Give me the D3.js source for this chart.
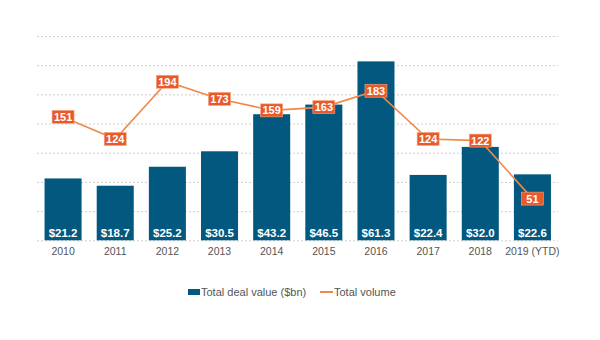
<!DOCTYPE html>
<html><head><meta charset="utf-8">
<script src="https://cdn.jsdelivr.net/npm/d3@7"></script>
<style>body{margin:0;background:#fff}svg{display:block;font-family:"Liberation Sans",Arial,sans-serif}</style>
</head><body><svg id="c" width="600" height="340"></svg>
<script>
const categories = ["2010","2011","2012","2013","2014","2015","2016","2017","2018","2019 (YTD)"];
const dealValues = [21.2,18.7,25.2,30.5,43.2,46.5,61.3,22.4,32.0,22.6];
const volumes = [151,124,194,173,159,163,183,124,122,51];
const leftTicks = [0,10,20,30,40,50,60,70];
const legendLabels = ["Total deal value ($bn)","Total volume"];

const svg = d3.select("#c");
const x = d3.scaleBand().domain(categories).range([37,558.5]).paddingInner(0.29).paddingOuter(0.145);
const y = d3.scaleLinear().domain([0,70]).range([240.3,36]);
const y2 = d3.scaleLinear().domain([0,250]).range([240.3,36]);

svg.append("g").selectAll("line").data(leftTicks).join("line")
  .attr("x1",37).attr("x2",558).attr("y1",d=>y(d)+0.5).attr("y2",d=>y(d)+0.5)
  .attr("stroke","#cfcfcf").attr("stroke-dasharray","2,2").attr("stroke-width",1);

svg.append("g").selectAll("rect").data(dealValues).join("rect")
  .attr("x",(d,i)=>x(categories[i])).attr("width",x.bandwidth())
  .attr("y",d=>y(d)).attr("height",d=>y(0)-y(d)).attr("fill","#02587f");

svg.append("g").selectAll("text").data(dealValues).join("text")
  .attr("x",(d,i)=>x(categories[i])+x.bandwidth()/2).attr("y",236.5)
  .attr("text-anchor","middle").attr("fill","#fff").attr("font-size","11.5px").attr("font-weight","bold")
  .text(d=>"$"+d.toFixed(1));

const xa = svg.append("g").attr("transform","translate(0,240)").call(d3.axisBottom(x).tickSize(0).tickPadding(7.5));
xa.select(".domain").remove();
xa.selectAll("text").attr("fill","#555").attr("font-size","10.5px").attr("font-family","Liberation Sans,Arial,sans-serif");

const cx = (i)=>x(categories[i])+x.bandwidth()/2;
svg.append("path").datum(volumes)
  .attr("d",d3.line().x((d,i)=>cx(i)).y(d=>y2(d)))
  .attr("fill","none").attr("stroke","#f0884a").attr("stroke-width",1.6);

const lg = svg.append("g").selectAll("g").data(volumes).join("g")
  .attr("transform",(d,i)=>`translate(${cx(i)},${y2(d)})`);
lg.append("rect").attr("x",-11).attr("y",-6.5).attr("width",22).attr("height",13)
  .attr("fill","#e85a2a").attr("stroke","#f6a47f").attr("stroke-width",0.6);
lg.append("text").attr("text-anchor","middle").attr("y",4).attr("fill","#fff")
  .attr("font-size","11px").attr("font-weight","bold").text(d=>d);

const leg = svg.append("g");
leg.append("rect").attr("x",188).attr("y",289).attr("width",12).attr("height",6).attr("fill","#02587f");
leg.append("text").attr("x",201).attr("y",296).attr("fill","#555").attr("font-size","11px").text(legendLabels[0]);
leg.append("line").attr("x1",320).attr("x2",333).attr("y1",292).attr("y2",292).attr("stroke","#f0884a").attr("stroke-width",2);
leg.append("text").attr("x",334).attr("y",296).attr("fill","#555").attr("font-size","11px").text(legendLabels[1]);
</script></body></html>
